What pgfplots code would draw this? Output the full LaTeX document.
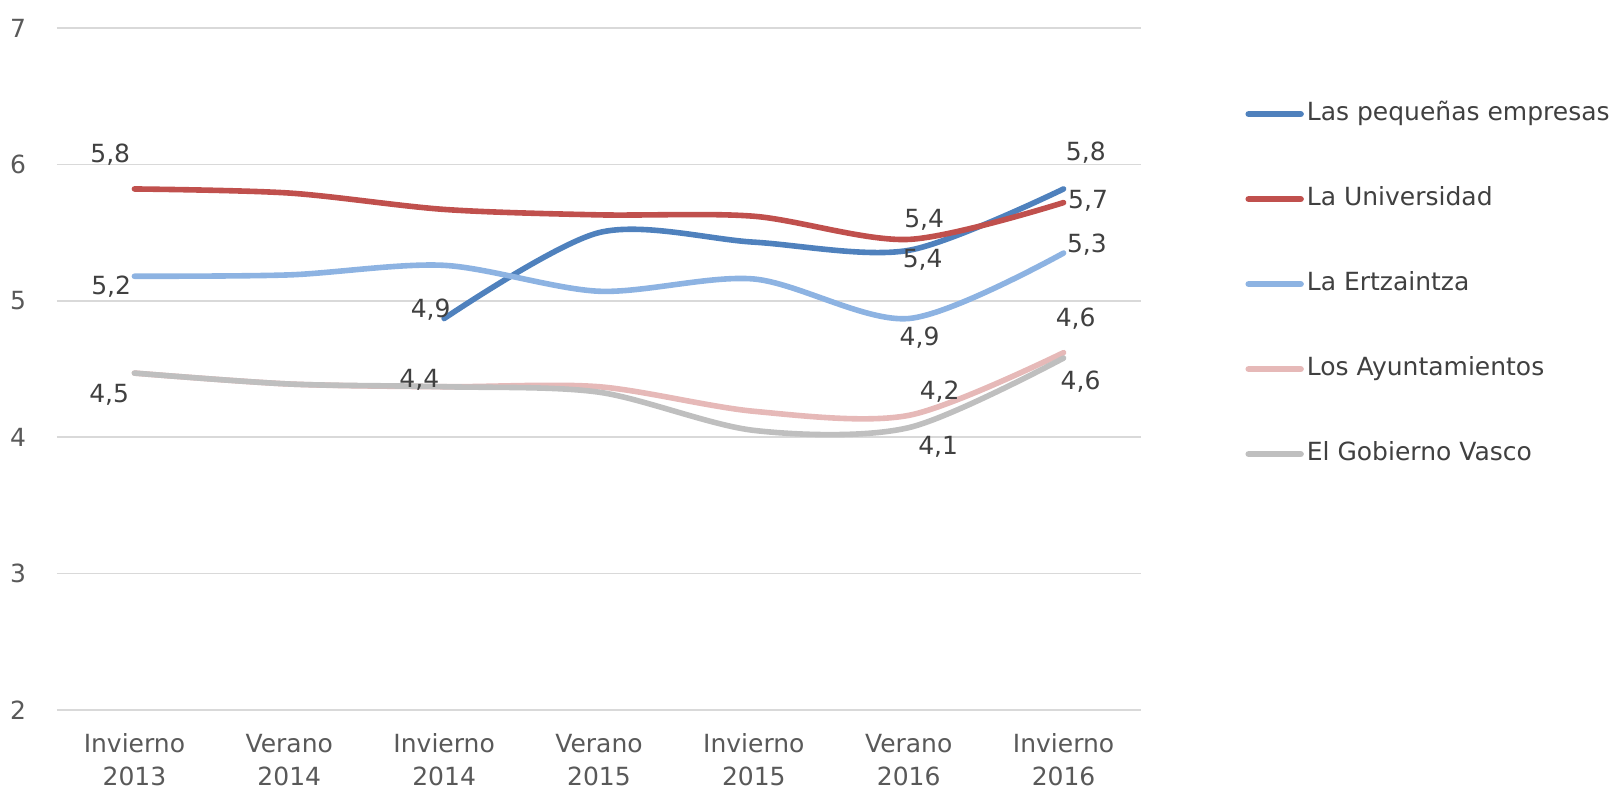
\documentclass[border=0pt]{standalone}
\usepackage{fontspec}
\setmainfont{DejaVu Sans}
\usepackage{pgfplots}
\pgfplotsset{compat=1.18}

\definecolor{cPeq}{HTML}{4F81BD}
\definecolor{cUni}{HTML}{C0504D}
\definecolor{cErt}{HTML}{8DB3E2}
\definecolor{cAyu}{HTML}{E6B9B8}
\definecolor{cGob}{HTML}{BFBFBF}
\definecolor{cTxt}{HTML}{404040}
\definecolor{cTick}{HTML}{595959}
\definecolor{cGrid}{HTML}{D9D9D9}

\begin{document}
\begin{tikzpicture}
\begin{axis}[
    at={(0,0)}, anchor=south west,
    scale only axis,
    width=542pt, height=341pt,
    xmin=-0.5, xmax=6.5,
    ymin=2, ymax=7,
    ytick={2,3,4,5,6,7},
    xtick={0,1,2,3,4,5,6},
    xticklabels={{Invierno\\2013},{Verano\\2014},{Invierno\\2014},{Verano\\2015},{Invierno\\2015},{Verano\\2016},{Invierno\\2016}},
    axis line style={draw=none},
    major tick length=0pt,
    ymajorgrids,
    grid style={cGrid, line width=0.8pt},
    /pgf/number format/assume math mode=true,
    tick label style={font=\fontsize{12.5}{16.5}\selectfont, text=cTick},
    yticklabel style={anchor=center, xshift=-19.5pt},
    xticklabel style={align=center, anchor=center, yshift=-25pt},
    legend style={at={(1.096,0.892)}, anchor=north west, draw=none, fill=none,
        inner sep=0pt, row sep=30.5pt,
        font=\fontsize{12.5}{15}\selectfont, text=cTxt,
        nodes={inner sep=0pt, text height=9pt, text depth=3pt}},
    legend cell align=left,
    legend image code/.code={\draw[#1, line width=3.2pt, line cap=round] (0pt,0pt) -- (26pt,0pt);},
    every axis plot/.append style={line width=2.8pt, line cap=round, smooth},
    clip=false,
]
\addplot[cPeq] coordinates {(2,4.87) (3,5.50) (4,5.43) (5,5.37) (6,5.82)};
\addlegendentry{\hspace{1.5pt}Las pequeñas empresas}
\addplot[cUni] coordinates {(0,5.82) (1,5.79) (2,5.67) (3,5.63) (4,5.62) (5,5.45) (6,5.72)};
\addlegendentry{\hspace{1.5pt}La Universidad}
\addplot[cErt] coordinates {(0,5.18) (1,5.19) (2,5.26) (3,5.07) (4,5.16) (5,4.87) (6,5.35)};
\addlegendentry{\hspace{1.5pt}La Ertzaintza}
\addplot[cAyu] coordinates {(0,4.47) (1,4.39) (2,4.37) (3,4.37) (4,4.19) (5,4.16) (6,4.62)};
\addlegendentry{\hspace{1.5pt}Los Ayuntamientos}
\addplot[cGob] coordinates {(0,4.47) (1,4.39) (2,4.37) (3,4.33) (4,4.05) (5,4.07) (6,4.58)};
\addlegendentry{\hspace{1.5pt}El Gobierno Vasco}

% etiquetas de datos
\begin{scope}[every node/.style={font=\fontsize{12.5}{15}\selectfont, text=cTxt, inner sep=0pt}]
\node at (axis cs:-0.156,6.07) {5,8};
\node at (axis cs:-0.15,5.105) {5,2};
\node at (axis cs:-0.163,4.312) {4,5};
\node at (axis cs:1.913,4.938) {4,9};
\node at (axis cs:1.84,4.417) {4,4};
\node at (axis cs:5.10,5.596) {5,4};
\node at (axis cs:5.09,5.301) {5,4};
\node at (axis cs:5.07,4.727) {4,9};
\node at (axis cs:5.20,4.334) {4,2};
\node at (axis cs:5.19,3.926) {4,1};
\node at (axis cs:6.144,6.087) {5,8};
\node at (axis cs:6.158,5.732) {5,7};
\node at (axis cs:6.151,5.414) {5,3};
\node at (axis cs:6.078,4.87) {4,6};
\node at (axis cs:6.11,4.41) {4,6};
\end{scope}
\end{axis}
\pgfresetboundingbox
\path[use as bounding box] (-28.5pt,-41.5pt) rectangle (779.5pt,355pt);
\end{tikzpicture}
\end{document}
